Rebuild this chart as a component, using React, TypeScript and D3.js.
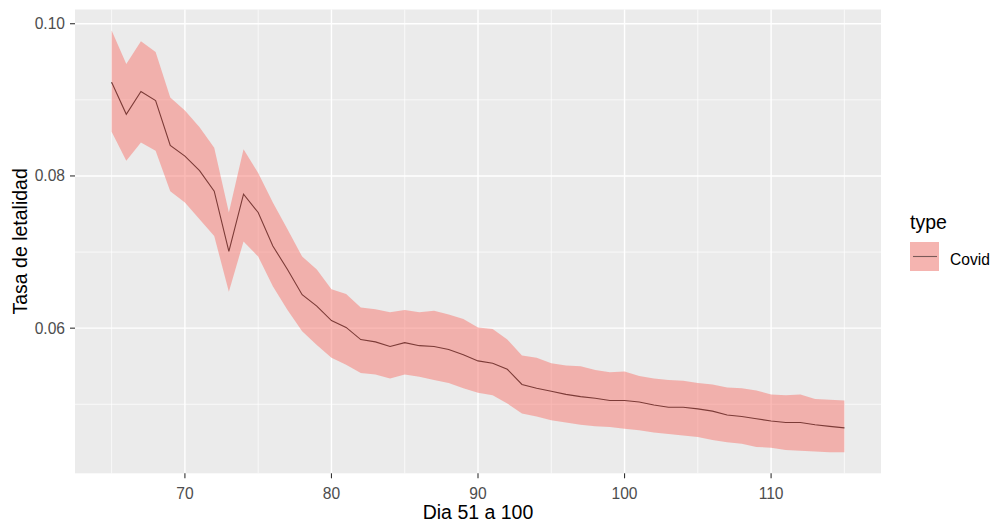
import React from 'react';
import * as d3 from 'd3';

const width = 997;
const height = 529;

// Dia (x), fitted rate and the ribbon bounds
const days = [
  65, 66, 67, 68, 69, 70, 71, 72, 73, 74, 75, 76, 77, 78, 79, 80,
  81, 82, 83, 84, 85, 86, 87, 88, 89, 90, 91, 92, 93, 94, 95, 96, 97, 98, 99,
  100, 101, 102, 103, 104, 105, 106, 107, 108, 109, 110, 111, 112, 113, 114, 115
];
const rate = [
  0.0923, 0.0881, 0.0911, 0.0899, 0.0840, 0.0826, 0.0807, 0.0780, 0.0701, 0.0776, 0.0752, 0.0708, 0.0677, 0.0644, 0.0629, 0.0610,
  0.0601, 0.0585, 0.0582, 0.0576, 0.0581, 0.0577, 0.0576, 0.0572, 0.0565, 0.0557, 0.0554, 0.0546, 0.0526, 0.0521, 0.0517, 0.0513, 0.0510, 0.0508, 0.0505,
  0.0505, 0.0503, 0.0499, 0.0496, 0.0496, 0.0494, 0.0491, 0.0486, 0.0484, 0.0481, 0.0478, 0.0476, 0.0476, 0.0473, 0.0471, 0.0469
];
const upper = [
  0.0991, 0.0947, 0.0977, 0.0963, 0.0903, 0.0886, 0.0864, 0.0837, 0.0752, 0.0835, 0.0804, 0.0765, 0.0730, 0.0694, 0.0677, 0.0651,
  0.0645, 0.0627, 0.0625, 0.0621, 0.0624, 0.0621, 0.0623, 0.0618, 0.0612, 0.0601, 0.0599, 0.0585, 0.0564, 0.0561, 0.0554, 0.0551, 0.0550, 0.0545, 0.0542,
  0.0543, 0.0537, 0.0534, 0.0532, 0.0531, 0.0528, 0.0526, 0.0522, 0.0521, 0.0518, 0.0513, 0.0512, 0.0513, 0.0507, 0.0506, 0.0505
];
const lower = [
  0.0858, 0.0820, 0.0844, 0.0833, 0.0780, 0.0765, 0.0743, 0.0721, 0.0648, 0.0714, 0.0694, 0.0655, 0.0624, 0.0596, 0.0578, 0.0561,
  0.0552, 0.0541, 0.0539, 0.0534, 0.0539, 0.0536, 0.0532, 0.0528, 0.0521, 0.0515, 0.0512, 0.0501, 0.0488, 0.0484, 0.0479, 0.0476, 0.0473, 0.0471, 0.0470,
  0.0468, 0.0466, 0.0463, 0.0461, 0.0459, 0.0457, 0.0453, 0.0450, 0.0448, 0.0444, 0.0443, 0.0440, 0.0439, 0.0438, 0.0437, 0.0437
];

const xMajor = [70, 80, 90, 100, 110];
const xMinor = [65, 75, 85, 95, 105, 115];
const yMajor = [0.06, 0.08, 0.1];
const yMinor = [0.05, 0.07, 0.09];

const seriesName = 'Covid';
const fill = '#F8766D';

const panel = { left: 75, right: 881, top: 9.5, bottom: 473.3 };
const font = '"Liberation Sans", Arial, sans-serif';

// ggplot style 5% expansion
const expand = ([a, b]: number[]) => {
  const pad = (b - a) * 0.05;
  return [a - pad, b + pad];
};

const x = d3
  .scaleLinear()
  .domain(expand(d3.extent(days) as number[]))
  .range([panel.left, panel.right]);

const y = d3
  .scaleLinear()
  .domain(expand([d3.min(lower) as number, d3.max(upper) as number]))
  .range([panel.bottom, panel.top]);

const rows = days.map((d, i) => ({ day: d, rate: rate[i], lo: lower[i], hi: upper[i] }));

const ribbon = d3
  .area<any>()
  .x(d => x(d.day))
  .y0(d => y(d.lo))
  .y1(d => y(d.hi));

const line = d3
  .line<any>()
  .x(d => x(d.day))
  .y(d => y(d.rate));

export default function App() {
  return (
    <svg
      width={width}
      height={height}
      style={{ position: 'absolute', left: 0, top: 0, background: '#fff' }}
      fontFamily={font}
    >
      <rect
        x={panel.left}
        y={panel.top}
        width={panel.right - panel.left}
        height={panel.bottom - panel.top}
        fill="#EBEBEB"
      />
      {/* grid */}
      {yMinor.map(v => (
        <line key={'ym' + v} x1={panel.left} x2={panel.right} y1={y(v)} y2={y(v)} stroke="#fff" strokeWidth={0.7} />
      ))}
      {xMinor.map(v => (
        <line key={'xm' + v} y1={panel.top} y2={panel.bottom} x1={x(v)} x2={x(v)} stroke="#fff" strokeWidth={0.7} />
      ))}
      {yMajor.map(v => (
        <line key={'yM' + v} x1={panel.left} x2={panel.right} y1={y(v)} y2={y(v)} stroke="#fff" strokeWidth={1.4} />
      ))}
      {xMajor.map(v => (
        <line key={'xM' + v} y1={panel.top} y2={panel.bottom} x1={x(v)} x2={x(v)} stroke="#fff" strokeWidth={1.4} />
      ))}

      {/* line under the ribbon, like the ggplot layer order */}
      <path d={line(rows) || ''} fill="none" stroke="#000" strokeWidth={1.1} />
      <path d={ribbon(rows) || ''} fill={fill} fillOpacity={0.5} />

      {/* x axis */}
      {xMajor.map(v => (
        <g key={'xt' + v} transform={`translate(${x(v)},${panel.bottom})`}>
          <line y1={0} y2={5} stroke="#333" strokeWidth={1.1} />
          <text y={26} textAnchor="middle" fontSize={15.6} fill="#4D4D4D">
            {v}
          </text>
        </g>
      ))}
      {/* y axis */}
      {yMajor.map(v => (
        <g key={'yt' + v} transform={`translate(${panel.left},${y(v)})`}>
          <line x1={-5} x2={0} stroke="#333" strokeWidth={1.1} />
          <text x={-10} dy="0.35em" textAnchor="end" fontSize={15.6} fill="#4D4D4D">
            {d3.format('.2f')(v)}
          </text>
        </g>
      ))}

      <text x={(panel.left + panel.right) / 2} y={519} textAnchor="middle" fontSize={19.5} fill="#000">
        Dia 51 a 100
      </text>
      <text
        transform={`translate(27,${(panel.top + panel.bottom) / 2}) rotate(-90)`}
        textAnchor="middle"
        fontSize={19.5}
        fill="#000"
      >
        Tasa de letalidad
      </text>

      {/* legend */}
      <text x={910} y={229} fontSize={19.5} fill="#000">
        type
      </text>
      <rect x={910} y={242} width={29} height={29} fill="#F2F2F2" />
      <rect x={910} y={242} width={29} height={29} fill={fill} fillOpacity={0.5} />
      <line x1={913} x2={937} y1={256.5} y2={256.5} stroke="#000" strokeOpacity={0.5} strokeWidth={1.1} />
      <text x={950} y={265} fontSize={15.6} fill="#000">
        {seriesName}
      </text>
    </svg>
  );
}
